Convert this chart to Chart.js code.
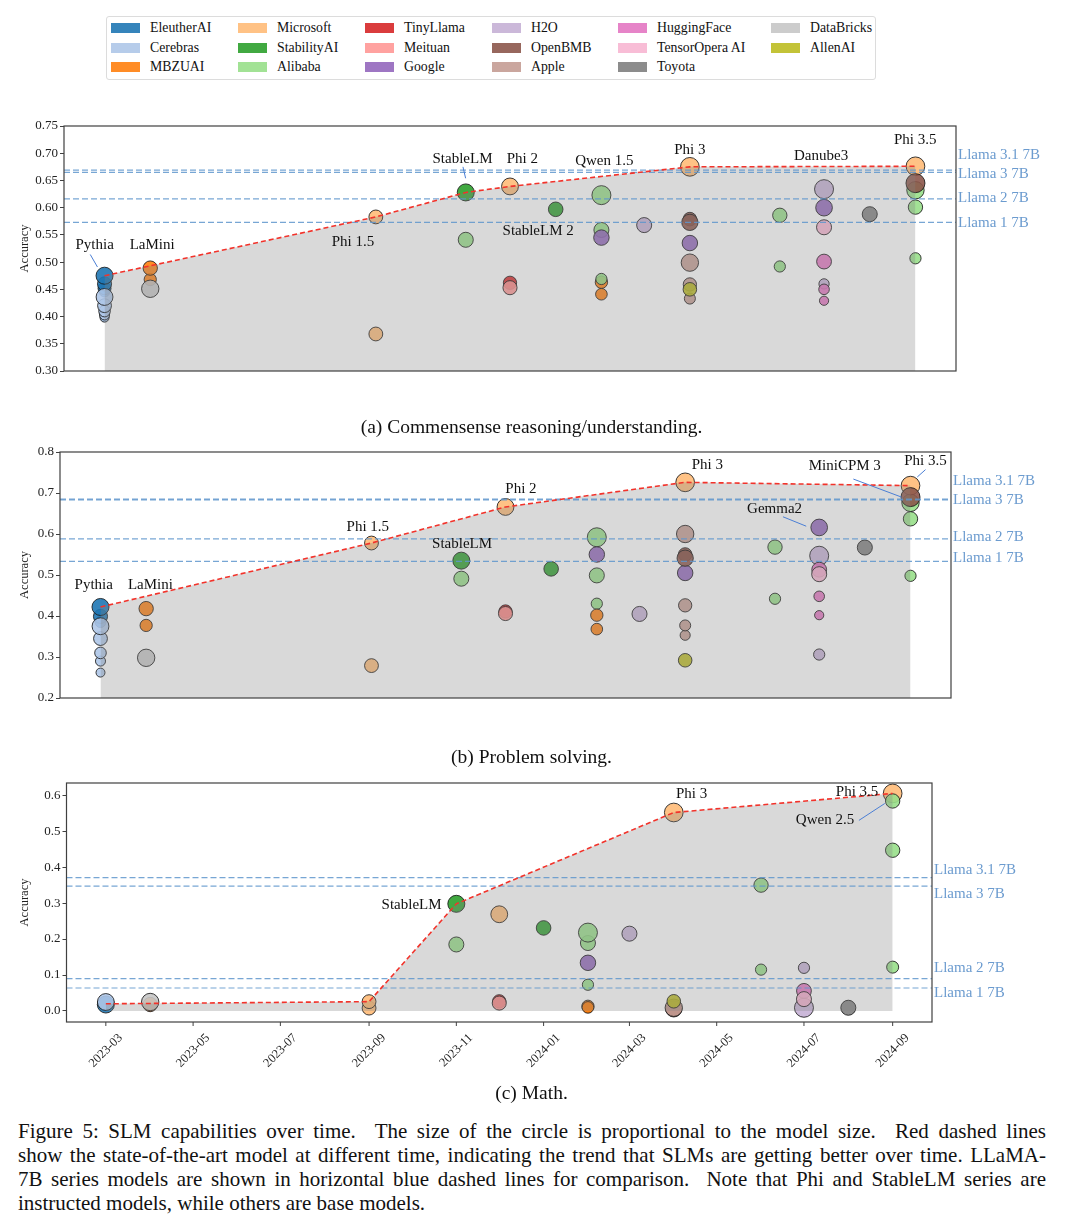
<!DOCTYPE html>
<html>
<head>
<meta charset="utf-8">
<script src="https://cdn.jsdelivr.net/npm/chart.js@4.4.1/dist/chart.umd.min.js"></script>
<style>
    body { margin: 0; background: #fff; font-family: "Liberation Serif", "Times New Roman", serif; color: #111; }
    #page { position: relative; width: 1080px; height: 1232px; overflow: hidden; }
    canvas { position: absolute; left: 0; }
    #legendBox { position: absolute; left: 106px; top: 16px; width: 768px; height: 62px; border: 1px solid #dcdcdc; border-radius: 3px; }
    .lg-sw { position: absolute; width: 29px; height: 10px; }
    .lg-tx { position: absolute; font-size: 13.8px; line-height: 16px; white-space: nowrap; }
    .sub { position: absolute; left: 0; width: 1063px; text-align: center; font-size: 19.5px; line-height: 24px; }
    #caption { position: absolute; left: 18px; top: 1119px; width: 1028px; font-size: 21px; line-height: 24px; }
    #caption .j { text-align: justify; text-align-last: justify; }
</style>
</head>
<body>
<div id="page">
    <div id="legendBox"></div>
    <canvas id="chartA" width="1080" height="290" style="top:100px"></canvas>
    <canvas id="chartB" width="1080" height="290" style="top:430px"></canvas>
    <canvas id="chartC" width="1080" height="330" style="top:760px"></canvas>
    <div class="sub" style="top:415px">(a) Commensense reasoning/understanding.</div>
    <div class="sub" style="top:745px">(b) Problem solving.</div>
    <div class="sub" style="top:1081px">(c) Math.</div>
    <div id="caption">
        <div class="j">Figure 5: SLM capabilities over time.&nbsp; The size of the circle is proportional to the model size.&nbsp; Red dashed lines</div>
        <div class="j">show the state-of-the-art model at different time, indicating the trend that SLMs are getting better over time. LLaMA-</div>
        <div class="j">7B series models are shown in horizontal blue dashed lines for comparison.&nbsp; Note that Phi and StableLM series are</div>
        <div>instructed models, while others are base models.</div>
    </div>
</div>
<script>
// organisations, in legend order (column by column)
const orgs = ['EleutherAI', 'Cerebras', 'MBZUAI', 'Microsoft', 'StabilityAI', 'Alibaba',
    'TinyLlama', 'Meituan', 'Google', 'H2O', 'OpenBMB', 'Apple',
    'HuggingFace', 'TensorOpera AI', 'Toyota', 'DataBricks', 'AllenAI'];
const orgColors = ['#1f77b4', '#aec7e8', '#ff7f0e', '#ffbb78', '#2ca02c', '#98df8a',
    '#d62728', '#ff9896', '#9467bd', '#c5b0d5', '#8c564b', '#c49c94',
    '#e377c2', '#f7b6d2', '#7f7f7f', '#c7c7c7', '#bcbd22'];

// [org, release month, accuracy, model size in B]
const commonsensePoints = [
    ['EleutherAI', '2023-03', 0.399, 0.07], ['EleutherAI', '2023-03', 0.405, 0.16],
    ['EleutherAI', '2023-03', 0.446, 0.41], ['EleutherAI', '2023-03', 0.452, 1.0],
    ['EleutherAI', '2023-03', 0.460, 1.4], ['EleutherAI', '2023-03', 0.475, 2.8],
    ['Cerebras', '2023-03', 0.398, 0.11], ['Cerebras', '2023-03', 0.403, 0.26],
    ['Cerebras', '2023-03', 0.410, 0.59], ['Cerebras', '2023-03', 0.420, 1.3],
    ['Cerebras', '2023-03', 0.436, 2.7],
    ['MBZUAI', '2023-04', 0.468, 0.77], ['MBZUAI', '2023-04', 0.489, 1.5], ['DataBricks', '2023-04', 0.451, 3.0],
    ['Microsoft', '2023-09', 0.583, 1.3], ['Microsoft', '2023-09', 0.368, 1.3],
    ['StabilityAI', '2023-11', 0.628, 2.8], ['Alibaba', '2023-11', 0.541, 1.8],
    ['TinyLlama', '2023-12', 0.462, 1.1], ['Meituan', '2023-12', 0.453, 1.4], ['Microsoft', '2023-12', 0.639, 2.7],
    ['StabilityAI', '2024-01', 0.597, 1.6],
    ['Alibaba', '2024-02', 0.623, 4.0], ['Alibaba', '2024-02', 0.559, 1.8], ['Google', '2024-02', 0.545, 2.0],
    ['MBZUAI', '2024-02', 0.463, 0.8], ['Alibaba', '2024-02', 0.469, 0.5], ['MBZUAI', '2024-02', 0.441, 0.6],
    ['H2O', '2024-03', 0.568, 1.8],
    ['Apple', '2024-04', 0.433, 0.45], ['Apple', '2024-04', 0.459, 1.1], ['AllenAI', '2024-04', 0.450, 1.2],
    ['Apple', '2024-04', 0.499, 3.0], ['Google', '2024-04', 0.535, 2.0], ['OpenBMB', '2024-04', 0.579, 1.2],
    ['OpenBMB', '2024-04', 0.573, 2.4], ['Microsoft', '2024-04', 0.675, 3.8],
    ['Alibaba', '2024-06', 0.586, 1.5], ['Alibaba', '2024-06', 0.492, 0.5],
    ['H2O', '2024-07', 0.634, 4.0], ['Google', '2024-07', 0.600, 2.6], ['TensorOpera AI', '2024-07', 0.564, 1.8],
    ['HuggingFace', '2024-07', 0.501, 1.7], ['H2O', '2024-07', 0.460, 0.3], ['HuggingFace', '2024-07', 0.450, 0.36],
    ['HuggingFace', '2024-07', 0.429, 0.135],
    ['Toyota', '2024-08', 0.588, 1.8],
    ['Alibaba', '2024-09', 0.632, 3.0], ['Microsoft', '2024-09', 0.676, 3.8], ['OpenBMB', '2024-09', 0.645, 4.0],
    ['Alibaba', '2024-09', 0.601, 1.5], ['Alibaba', '2024-09', 0.507, 0.5]
];
const problemPoints = [
    ['EleutherAI', '2023-03', 0.385, 0.41], ['EleutherAI', '2023-03', 0.399, 1.4], ['EleutherAI', '2023-03', 0.422, 2.8],
    ['Cerebras', '2023-03', 0.262, 0.11], ['Cerebras', '2023-03', 0.290, 0.26], ['Cerebras', '2023-03', 0.310, 0.59],
    ['Cerebras', '2023-03', 0.345, 1.3], ['Cerebras', '2023-03', 0.375, 2.7],
    ['MBZUAI', '2023-04', 0.418, 1.5], ['MBZUAI', '2023-04', 0.377, 0.77], ['DataBricks', '2023-04', 0.298, 3.0],
    ['Microsoft', '2023-09', 0.578, 1.3], ['Microsoft', '2023-09', 0.279, 1.3],
    ['StabilityAI', '2023-11', 0.535, 2.8], ['Alibaba', '2023-11', 0.491, 1.8],
    ['TinyLlama', '2023-12', 0.411, 1.1], ['Meituan', '2023-12', 0.406, 1.4], ['Microsoft', '2023-12', 0.666, 2.7],
    ['StabilityAI', '2024-01', 0.515, 1.6],
    ['Alibaba', '2024-02', 0.592, 4.0], ['Google', '2024-02', 0.550, 2.0], ['Alibaba', '2024-02', 0.499, 1.8],
    ['Alibaba', '2024-02', 0.430, 0.5], ['MBZUAI', '2024-02', 0.402, 0.8], ['MBZUAI', '2024-02', 0.368, 0.6],
    ['H2O', '2024-03', 0.405, 1.8],
    ['AllenAI', '2024-04', 0.292, 1.2], ['Apple', '2024-04', 0.353, 0.27], ['Apple', '2024-04', 0.377, 0.45],
    ['Apple', '2024-04', 0.426, 1.1], ['Google', '2024-04', 0.505, 2.0], ['OpenBMB', '2024-04', 0.550, 1.2],
    ['OpenBMB', '2024-04', 0.541, 2.4], ['Apple', '2024-04', 0.600, 3.0], ['Microsoft', '2024-04', 0.726, 3.8],
    ['Alibaba', '2024-06', 0.568, 1.5], ['Alibaba', '2024-06', 0.442, 0.5],
    ['Google', '2024-07', 0.616, 2.6], ['H2O', '2024-07', 0.547, 4.0], ['HuggingFace', '2024-07', 0.513, 1.7],
    ['TensorOpera AI', '2024-07', 0.502, 1.8], ['HuggingFace', '2024-07', 0.448, 0.36],
    ['HuggingFace', '2024-07', 0.402, 0.135], ['H2O', '2024-07', 0.306, 0.5],
    ['Toyota', '2024-08', 0.567, 1.8],
    ['Alibaba', '2024-09', 0.676, 3.0], ['Microsoft', '2024-09', 0.718, 3.8], ['OpenBMB', '2024-09', 0.690, 4.0],
    ['Alibaba', '2024-09', 0.637, 1.5], ['Alibaba', '2024-09', 0.498, 0.5]
];
const mathPoints = [
    ['EleutherAI', '2023-03', 0.018, 2.8], ['Cerebras', '2023-03', 0.025, 2.7],
    ['MBZUAI', '2023-04', 0.018, 1.5], ['DataBricks', '2023-04', 0.025, 3.0],
    ['Microsoft', '2023-09', 0.008, 1.3], ['Microsoft', '2023-09', 0.026, 1.3],
    ['StabilityAI', '2023-11', 0.298, 2.8], ['Alibaba', '2023-11', 0.185, 1.8],
    ['TinyLlama', '2023-12', 0.027, 1.1], ['Meituan', '2023-12', 0.022, 1.4], ['Microsoft', '2023-12', 0.269, 2.7],
    ['StabilityAI', '2024-01', 0.231, 1.6],
    ['Alibaba', '2024-02', 0.189, 1.8], ['Alibaba', '2024-02', 0.218, 4.0], ['Google', '2024-02', 0.134, 2.0],
    ['Alibaba', '2024-02', 0.073, 0.5], ['MBZUAI', '2024-02', 0.013, 0.8], ['MBZUAI', '2024-02', 0.010, 0.6],
    ['H2O', '2024-03', 0.215, 1.8],
    ['OpenBMB', '2024-04', 0.006, 2.4], ['Apple', '2024-04', 0.009, 3.0], ['AllenAI', '2024-04', 0.027, 1.2],
    ['Microsoft', '2024-04', 0.552, 3.8],
    ['Alibaba', '2024-06', 0.350, 1.5], ['Alibaba', '2024-06', 0.115, 0.5],
    ['H2O', '2024-07', 0.009, 4.0], ['HuggingFace', '2024-07', 0.056, 1.7], ['TensorOpera AI', '2024-07', 0.033, 1.8],
    ['H2O', '2024-07', 0.120, 0.5],
    ['Toyota', '2024-08', 0.009, 1.8],
    ['Microsoft', '2024-09', 0.605, 3.8], ['Alibaba', '2024-09', 0.584, 1.5],
    ['Alibaba', '2024-09', 0.447, 1.5], ['Alibaba', '2024-09', 0.122, 0.7]
];

// state-of-the-art trend (red dashed line)
const commonsenseSotaDates = ['2023-03', '2023-09', '2023-11', '2023-12', '2024-04', '2024-09'];
const commonsenseSotaAcc = [0.475, 0.583, 0.628, 0.639, 0.675, 0.676];
const problemSotaDates = ['2023-03', '2023-09', '2023-12', '2024-04', '2024-09'];
const problemSotaAcc = [0.422, 0.578, 0.666, 0.726, 0.718];
const mathSotaDates = ['2023-03', '2023-09', '2023-11', '2024-04', '2024-09'];
const mathSotaAcc = [0.020, 0.026, 0.298, 0.552, 0.605];

// LLaMA-7B baselines (blue dashed lines)
const llamaNames = ['Llama 3.1 7B', 'Llama 3 7B', 'Llama 2 7B', 'Llama 1 7B'];
const commonsenseLlama = [0.669, 0.665, 0.616, 0.573];
const problemLlama = [0.685, 0.683, 0.588, 0.533];
const mathLlama = [0.371, 0.347, 0.090, 0.064];

// tick labels
const commonsenseYTicks = ['0.30', '0.35', '0.40', '0.45', '0.50', '0.55', '0.60', '0.65', '0.70', '0.75'];
const problemYTicks = ['0.2', '0.3', '0.4', '0.5', '0.6', '0.7', '0.8'];
const mathYTicks = ['0.0', '0.1', '0.2', '0.3', '0.4', '0.5', '0.6'];
const monthTicks = ['2023-03', '2023-05', '2023-07', '2023-09', '2023-11', '2024-01', '2024-03', '2024-05', '2024-07', '2024-09'];

const SERIF = '"Liberation Serif", "Times New Roman", serif';
const BASE = Date.UTC(2023, 2, 1);
const toDay = s => { const [yy, mm] = s.split('-').map(Number); return (Date.UTC(yy, mm - 1, 1) - BASE) / 86400000; };
const X_MIN = -27.5, X_MAX = 577.5;   // 5% margins round 2023-03 .. 2024-09
const radius = b => 3.5 + 3 * Math.sqrt(b);
const withAlpha = (hex, a) => {
    const n = parseInt(hex.slice(1), 16);
    return `rgba(${n >> 16},${(n >> 8) & 255},${n & 255},${a})`;
};

// legend
const page = document.getElementById('page');
const colLeft = [111, 238, 365, 492, 618, 771];
const rowTop = [22.5, 42.5, 62];
orgs.forEach((name, i) => {
    const col = Math.floor(i / 3), row = i % 3;
    const sw = document.createElement('div');
    sw.className = 'lg-sw';
    sw.style.left = colLeft[col] + 'px';
    sw.style.top = rowTop[row] + 'px';
    sw.style.background = withAlpha(orgColors[i], 0.9);
    page.appendChild(sw);
    const tx = document.createElement('div');
    tx.className = 'lg-tx';
    tx.textContent = name;
    tx.style.left = (colLeft[col] + 39) + 'px';
    tx.style.top = (rowTop[row] - 3) + 'px';
    page.appendChild(tx);
});

const decorations = {
    id: 'decorations',
    afterDatasetsDraw(chart, args, o) {
        const { ctx, chartArea: a, scales: { x, y } } = chart;
        ctx.save();
        ctx.strokeStyle = '#4a7ed4';
        ctx.lineWidth = 1;
        o.leaders.forEach(([p, q]) => {
            ctx.beginPath();
            ctx.moveTo(x.getPixelForValue(p[0]), y.getPixelForValue(p[1]));
            ctx.lineTo(x.getPixelForValue(q[0]), y.getPixelForValue(q[1]));
            ctx.stroke();
        });
        ctx.strokeStyle = '#404040';
        ctx.lineWidth = 1.2;
        ctx.strokeRect(a.left, a.top, a.right - a.left, a.bottom - a.top);

        ctx.font = `15px ${SERIF}`;
        ctx.fillStyle = '#111';
        ctx.textAlign = 'center';
        ctx.textBaseline = 'middle';
        o.notes.forEach(([t, d, v]) => ctx.fillText(t, x.getPixelForValue(d), y.getPixelForValue(v)));

        ctx.fillStyle = '#6b9bcf';
        ctx.textAlign = 'left';
        llamaNames.forEach((n, i) => ctx.fillText(n, a.right + 2, y.getPixelForValue(o.llamaAt[i])));

        if (o.dateTicks) {
            ctx.font = `12.5px ${SERIF}`;
            ctx.fillStyle = '#222';
            ctx.lineWidth = 1;
            monthTicks.forEach(lbl => {
                const px = x.getPixelForValue(toDay(lbl));
                ctx.beginPath();
                ctx.moveTo(px, a.bottom);
                ctx.lineTo(px, a.bottom + 4);
                ctx.stroke();
                const side = (ctx.measureText(lbl).width + 11) / Math.SQRT2;
                ctx.save();
                ctx.translate(px, a.bottom + 10 + side / 2);
                ctx.rotate(-Math.PI / 4);
                ctx.textAlign = 'center';
                ctx.fillText(lbl, 0, 0);
                ctx.restore();
            });
        }

        ctx.fillStyle = '#222';
        ctx.font = `12.5px ${SERIF}`;
        ctx.textAlign = 'center';
        ctx.translate(25, (a.top + a.bottom) / 2);
        ctx.rotate(-Math.PI / 2);
        ctx.fillText('Accuracy', 0, 0);
        ctx.restore();
    }
};

function buildChart(id, pts, sotaDates, sotaAcc, llamaAcc, yTicks, cfg) {
    const sota = sotaDates.map((d, i) => ({ x: toDay(d), y: sotaAcc[i] }));
    const llamaSets = llamaAcc.map(v => ({
        type: 'line',
        data: [{ x: X_MIN, y: v }, { x: X_MAX, y: v }],
        borderColor: 'rgba(95,150,205,0.85)',
        borderWidth: 1.2,
        borderDash: [6, 3],
        pointRadius: 0,
        fill: false,
        order: 2
    }));
    const tickValues = yTicks.map(Number);
    return new Chart(document.getElementById(id), {
        type: 'bubble',
        data: {
            datasets: [
                {
                    type: 'bubble',
                    data: pts.map(p => ({ x: toDay(p[1]), y: p[2], r: radius(p[3]) })),
                    backgroundColor: pts.map(p => withAlpha(orgColors[orgs.indexOf(p[0])], 0.9)),
                    borderColor: 'rgba(25,25,25,0.85)',
                    borderWidth: 1,
                    order: 4
                },
                // grey area sits over the bubbles, as in the original
                {
                    type: 'line', data: sota, fill: 'origin', backgroundColor: 'rgba(128,128,128,0.3)',
                    borderWidth: 0, pointRadius: 0, order: 3
                },
                ...llamaSets,
                {
                    type: 'line', data: sota, fill: false, borderColor: '#f2332b', borderWidth: 1.6,
                    borderDash: [5, 3], pointRadius: 0, order: 1
                }
            ]
        },
        options: {
            responsive: false,
            animation: false,
            events: [],
            layout: { padding: cfg.padding },
            plugins: {
                legend: { display: false },
                tooltip: { enabled: false },
                decorations: cfg.decor
            },
            scales: {
                x: { type: 'linear', min: X_MIN, max: X_MAX, display: false },
                y: {
                    type: 'linear',
                    min: cfg.yMin,
                    max: cfg.yMax,
                    afterBuildTicks: s => { s.ticks = tickValues.map(v => ({ value: v })); },
                    afterFit: s => { s.width = cfg.yWidth; },
                    ticks: {
                        callback: (v, i) => yTicks[i],
                        font: { family: SERIF, size: 13 },
                        color: '#222',
                        padding: 2
                    },
                    grid: { drawOnChartArea: false, tickLength: 4, color: '#404040' },
                    border: { display: false }
                }
            }
        },
        plugins: [decorations]
    });
}

buildChart('chartA', commonsensePoints, commonsenseSotaDates, commonsenseSotaAcc, commonsenseLlama, commonsenseYTicks, {
    padding: { top: 26, right: 124, bottom: 19, left: 0 },
    yWidth: 64, yMin: 0.30, yMax: 0.75,
    decor: {
        llamaAt: [0.697, 0.661, 0.618, 0.572],
        notes: [['Pythia', -6.7, 0.531], ['LaMini', 32.3, 0.531], ['Phi 1.5', 168.5, 0.537],
            ['StableLM', 242.8, 0.689], ['Phi 2', 283.4, 0.689], ['Qwen 1.5', 339, 0.686],
            ['Phi 3', 397, 0.706], ['Danube3', 486, 0.694], ['Phi 3.5', 549.8, 0.724], ['StableLM 2', 294.1, 0.557]],
        leaders: [[[-9.7, 0.514], [-4.8, 0.491]], [[243.1, 0.675], [244.9, 0.654]]]
    }
});

buildChart('chartB', problemPoints, problemSotaDates, problemSotaAcc, problemLlama, problemYTicks, {
    padding: { top: 22, right: 129, bottom: 22, left: 0 },
    yWidth: 60, yMin: 0.2, yMax: 0.8,
    decor: {
        llamaAt: [0.729, 0.683, 0.592, 0.541],
        notes: [['Pythia', -4.6, 0.475], ['LaMini', 33.9, 0.475], ['Phi 1.5', 181.5, 0.616],
            ['StableLM', 245.5, 0.576], ['Phi 2', 285.5, 0.710], ['Phi 3', 412, 0.767],
            ['MiniCPM 3', 505.4, 0.765], ['Phi 3.5', 560.2, 0.777], ['Gemma2', 457.7, 0.661]],
        leaders: [[[511.2, 0.734], [543.9, 0.690]], [[560.2, 0.757], [554.6, 0.739]], [[463.4, 0.642], [479.2, 0.619]]]
    }
});

buildChart('chartC', mathPoints, mathSotaDates, mathSotaAcc, mathLlama, mathYTicks, {
    padding: { top: 23, right: 148, bottom: 68, left: 0 },
    yWidth: 66.5, yMin: -0.0306, yMax: 0.634,
    decor: {
        llamaAt: [0.393, 0.325, 0.118, 0.050],
        notes: [['StableLM', 213.7, 0.294], ['Phi 3', 409.4, 0.603], ['Phi 3.5', 525.1, 0.609], ['Qwen 2.5', 502.7, 0.530]],
        leaders: [[[526.4, 0.530], [544.5, 0.577]]],
        dateTicks: true
    }
});
</script>
</body>
</html>
